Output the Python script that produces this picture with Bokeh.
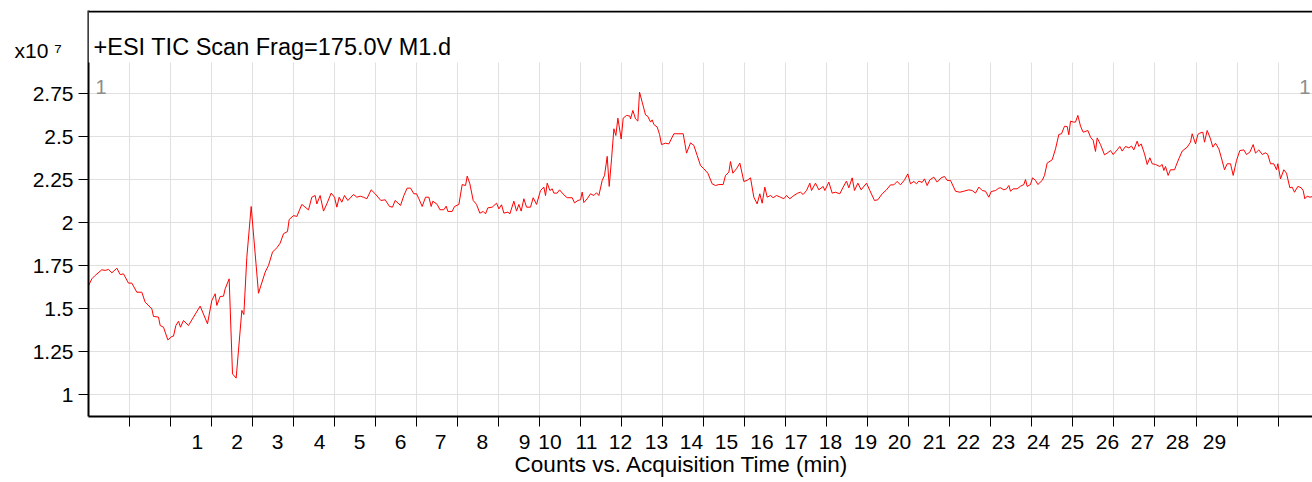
from bokeh.plotting import figure
from bokeh.models import Range1d, FixedTicker, Label, BoxAnnotation
from bokeh.embed import file_html
from bokeh.resources import INLINE

# Acquisition time (min) and TIC counts (x10^7)
time_min = [
    0.01, 0.088, 0.17, 0.332, 0.413, 0.495, 0.576, 0.698, 0.779, 0.86,
    0.982, 1.063, 1.185, 1.307, 1.388, 1.551, 1.591, 1.713, 1.754, 1.835,
    1.941, 2.038, 2.079, 2.136, 2.201, 2.249, 2.322, 2.444, 2.566, 2.729,
    2.907, 3.013, 3.094, 3.135, 3.216, 3.297, 3.338, 3.435, 3.517, 3.606,
    3.744, 3.793, 3.866, 3.972, 4.15, 4.313, 4.394, 4.492, 4.597, 4.678,
    4.76, 4.857, 4.898, 5.003, 5.085, 5.206, 5.369, 5.45, 5.531, 5.572,
    5.653, 5.735, 5.816, 5.921, 6.003, 6.06, 6.116, 6.181, 6.246, 6.328,
    6.466, 6.547, 6.628, 6.709, 6.791, 6.896, 6.994, 7.132, 7.238, 7.343,
    7.416, 7.481,
    7.612, 7.693, 7.774, 7.856, 7.937, 8.002, 8.059, 8.14, 8.221, 8.303,
    8.359, 8.4, 8.506, 8.571, 8.668, 8.725, 8.766, 8.871, 8.928, 9.034,
    9.115, 9.196, 9.237, 9.302, 9.383, 9.464, 9.545, 9.627, 9.684, 9.74,
    9.846, 9.952, 10.009, 10.074, 10.131, 10.228, 10.277, 10.374, 10.439, 10.496,
    10.553, 10.618, 10.683, 10.78, 10.845, 10.927, 11.024, 11.105, 11.146, 11.187,
    11.252, 11.309, 11.349, 11.43, 11.487, 11.593, 11.674, 11.796, 11.853, 11.934,
    11.999, 12.04, 12.08, 12.162, 12.243, 12.324, 12.389, 12.446, 12.527, 12.584,
    12.649, 12.698, 12.755, 12.812, 12.86, 12.909, 12.99, 13.039, 13.12, 13.201,
    13.218, 13.274, 13.339, 13.396, 13.437, 13.502, 13.583, 13.64, 13.705, 13.746,
    13.786, 13.868, 13.925, 13.973, 14.071, 14.152, 14.274, 14.501, 14.583, 14.68,
    14.761, 14.843,
    14.923, 15.004, 15.102, 15.207, 15.289, 15.37, 15.475, 15.532, 15.614, 15.654,
    15.711, 15.8, 15.882, 15.979, 16.06, 16.142, 16.223, 16.304, 16.369, 16.426,
    16.491, 16.548, 16.629, 16.694, 16.775, 16.873, 16.954, 17.019, 17.1, 17.198,
    17.295, 17.36, 17.425, 17.507, 17.588, 17.628, 17.726, 17.807, 17.913, 17.953,
    18.051, 18.132, 18.213, 18.319, 18.4, 18.481, 18.538, 18.62, 18.676, 18.758,
    18.839, 18.969, 19.05, 19.164, 19.245, 19.351, 19.456, 19.554, 19.635, 19.716,
    19.797, 19.895, 19.976, 20.041, 20.122, 20.187, 20.244, 20.325, 20.382, 20.447,
    20.512, 20.61, 20.691, 20.789, 20.87, 20.935, 21.016, 21.138, 21.244, 21.341,
    21.463, 21.544, 21.625, 21.707, 21.788, 21.869, 21.95, 22.007, 22.113, 22.194,
    22.235, 22.316, 22.381, 22.438, 22.479, 22.544, 22.641, 22.722, 22.804, 22.844,
    22.885, 22.966, 23.015, 23.088, 23.145, 23.251, 23.307, 23.372, 23.494, 23.576,
    23.657, 23.722, 23.795, 23.86, 23.9, 23.941, 24.022, 24.063, 24.12, 24.185,
    24.25, 24.364, 24.429, 24.494, 24.55, 24.591, 24.672, 24.77, 24.835, 24.916,
    24.981, 25.078, 25.143, 25.2, 25.282, 25.363, 25.428, 25.485, 25.566, 25.607,
    25.663, 25.745, 25.81, 25.875, 25.932, 26.013, 26.118, 26.175, 26.216, 26.256,
    26.321, 26.378, 26.476, 26.516, 26.581, 26.663, 26.785, 26.866, 26.906, 26.988,
    27.045, 27.093, 27.166, 27.207, 27.272, 27.353, 27.41, 27.475, 27.556, 27.613,
    27.695, 27.76, 27.841, 27.906, 27.987, 28.068, 28.166, 28.231, 28.312, 28.393,
    28.45, 28.531, 28.613, 28.694, 28.75, 28.816, 28.897, 28.962, 28.994, 29.059,
    29.14, 29.205, 29.287, 29.343, 29.4, 29.482, 29.563, 29.612, 29.652, 29.709,
    29.774, 29.839,
]

tic_x1e7 = [
    1.633, 1.672, 1.692, 1.725, 1.721, 1.727, 1.707, 1.734, 1.697, 1.701,
    1.647, 1.647, 1.594, 1.594, 1.536, 1.497, 1.453, 1.449, 1.400, 1.390,
    1.316, 1.336, 1.338, 1.400, 1.425, 1.390, 1.429, 1.400, 1.449, 1.513,
    1.410, 1.546, 1.585, 1.517, 1.569, 1.571, 1.614, 1.672, 1.118, 1.093,
    1.488, 1.464, 1.798, 2.094, 1.588, 1.711, 1.750, 1.828, 1.853, 1.880,
    1.935, 1.948, 2.018, 2.041, 2.036, 2.106, 2.074, 2.148, 2.158, 2.109,
    2.158, 2.067, 2.109, 2.172, 2.148, 2.090, 2.148, 2.119, 2.158, 2.129,
    2.164, 2.148, 2.154, 2.148, 2.139, 2.191, 2.168, 2.129, 2.133, 2.094,
    2.090, 2.129,
    2.100, 2.158, 2.201, 2.201, 2.168, 2.168, 2.139, 2.094, 2.148, 2.148,
    2.094, 2.125, 2.106, 2.075, 2.075, 2.096, 2.065, 2.065, 2.094, 2.106,
    2.222, 2.216, 2.271, 2.226, 2.129, 2.106, 2.055, 2.065, 2.051, 2.086,
    2.090, 2.113, 2.080, 2.104, 2.055, 2.061, 2.051, 2.125, 2.067, 2.106,
    2.067, 2.139, 2.090, 2.090, 2.145, 2.106, 2.187, 2.207, 2.158, 2.230,
    2.187, 2.197, 2.172, 2.172, 2.191, 2.162, 2.145, 2.145, 2.115, 2.129,
    2.133, 2.178, 2.117, 2.139, 2.168, 2.158, 2.174, 2.158, 2.246, 2.275,
    2.386, 2.211, 2.372, 2.547, 2.508, 2.609, 2.487, 2.609, 2.625, 2.621,
    2.605, 2.654, 2.605, 2.592, 2.761, 2.702, 2.628, 2.619, 2.586, 2.599,
    2.572, 2.557, 2.514, 2.455, 2.463, 2.459, 2.518, 2.518, 2.405, 2.465,
    2.450, 2.391,
    2.333, 2.314, 2.288, 2.226, 2.216, 2.222, 2.222, 2.275, 2.294, 2.356,
    2.288, 2.314, 2.347, 2.240, 2.246, 2.261, 2.148, 2.109, 2.168, 2.113,
    2.207, 2.148, 2.158, 2.145, 2.158, 2.148, 2.139, 2.158, 2.139, 2.158,
    2.172, 2.177, 2.164, 2.187, 2.230, 2.187, 2.230, 2.191, 2.211, 2.187,
    2.236, 2.172, 2.177, 2.168, 2.207, 2.242, 2.203, 2.261, 2.187, 2.230,
    2.191, 2.230, 2.187, 2.129, 2.133, 2.168, 2.191, 2.220, 2.220, 2.240,
    2.220, 2.249, 2.284, 2.226, 2.240, 2.226, 2.242, 2.234, 2.255, 2.216,
    2.249, 2.265, 2.236, 2.261, 2.269, 2.246, 2.246, 2.183, 2.177, 2.183,
    2.191, 2.187, 2.172, 2.207, 2.187, 2.183, 2.148, 2.181, 2.187, 2.201,
    2.203, 2.191, 2.197, 2.216, 2.183, 2.197, 2.197, 2.212, 2.222, 2.251,
    2.211, 2.222, 2.261, 2.246, 2.222, 2.246, 2.275, 2.347, 2.366, 2.430,
    2.514, 2.518, 2.562, 2.560, 2.512, 2.591, 2.586, 2.586, 2.625, 2.562,
    2.527, 2.537, 2.498, 2.479, 2.415, 2.494, 2.455, 2.395, 2.405, 2.420,
    2.397, 2.424, 2.444, 2.417, 2.444, 2.436, 2.446, 2.424, 2.475, 2.444,
    2.459, 2.401, 2.339, 2.378, 2.343, 2.339, 2.327, 2.339, 2.304, 2.327,
    2.275, 2.308, 2.308, 2.333, 2.372, 2.417, 2.440, 2.469, 2.518, 2.459,
    2.514, 2.522, 2.527, 2.469, 2.537, 2.488, 2.440, 2.463, 2.430, 2.382,
    2.308, 2.343, 2.343, 2.275, 2.362, 2.420, 2.424, 2.397, 2.411, 2.455,
    2.405, 2.424, 2.397, 2.407, 2.397, 2.343, 2.343, 2.308, 2.343, 2.255,
    2.308, 2.288, 2.203, 2.207, 2.177, 2.211, 2.203, 2.187, 2.139, 2.154,
    2.148, 2.152,
]

# Axis ticks and labels
y_ticks = [1.0, 1.25, 1.5, 1.75, 2.0, 2.25, 2.5, 2.75]
y_tick_labels = ["1", "1.25", "1.5", "1.75", "2", "2.25", "2.5", "2.75"]
y_scale_label_pos = 3.006
y_scale_label = "x10\u00a0\u2077\u00a0\u00a0"
x_tick_marks = list(range(1, 30))
x_label_positions = [2.657, 3.631, 4.614, 5.637, 6.612, 7.612, 8.586, 9.603, 10.634,
                     11.255, 12.145, 12.973, 13.851, 14.704, 15.557, 16.422, 17.251,
                     18.092, 18.945, 19.773, 20.626, 21.455, 22.308, 23.161, 23.99,
                     24.843, 25.696, 26.549, 27.451]
x_tick_labels = [str(i) for i in range(1, 30)]

title_text = "+ESI TIC Scan Frag=175.0V M1.d"
x_axis_title = "Counts vs. Acquisition Time (min)" + "\u00a0" * 6

FONT = "Liberation Sans"
Y_TOP = 3.2367

p = figure(width=1312, height=482, output_backend="svg", toolbar_location=None,
           x_range=Range1d(0.007, 29.839), y_range=Range1d(0.8694, Y_TOP),
           min_border_left=88, min_border_right=0, min_border_top=10, min_border_bottom=66)

p.background_fill_color = "white"
p.border_fill_color = "white"
p.outline_line_color = None

# grids
p.xgrid.ticker = FixedTicker(ticks=x_tick_marks)
p.ygrid.ticker = FixedTicker(ticks=y_ticks)
p.xgrid.grid_line_color = "#e0e0e0"
p.ygrid.grid_line_color = "#e0e0e0"

p.line(time_min, tic_x1e7, line_color="#ff0000", line_width=1)

# header strip (white) and its top border (black)
p.add_layout(BoxAnnotation(bottom=2.934, top=None, fill_color="white", fill_alpha=1.0,
                           line_color=None))
p.add_layout(BoxAnnotation(bottom=Y_TOP - 2.0 / 171.5, top=None, fill_color="black",
                           fill_alpha=1.0, line_color=None))

# y axis: visible tick marks are the minor ticks, labels sit on invisible major ticks
ya = p.yaxis[0]
ya.ticker = FixedTicker(ticks=y_ticks + [y_scale_label_pos], minor_ticks=y_ticks)
overrides = {t: l for t, l in zip(y_ticks, y_tick_labels)}
overrides[y_scale_label_pos] = y_scale_label
ya.major_label_overrides = overrides
ya.major_tick_line_color = None
ya.major_tick_out = 10
ya.major_tick_in = 0
ya.minor_tick_line_color = "black"
ya.minor_tick_out = 10
ya.minor_tick_in = 0
ya.major_label_standoff = 5
ya.major_label_text_font = FONT
ya.major_label_text_font_size = "21px"
ya.major_label_text_color = "black"
ya.axis_line_width = 2
ya.axis_line_color = "black"

# x axis
xa = p.xaxis[0]
xa.ticker = FixedTicker(ticks=x_label_positions, minor_ticks=x_tick_marks)
xa.major_label_overrides = {t: l for t, l in zip(x_label_positions, x_tick_labels)}
xa.major_tick_line_color = None
xa.major_tick_out = 10
xa.major_tick_in = 0
xa.minor_tick_line_color = "black"
xa.minor_tick_out = 10
xa.minor_tick_in = 0
xa.major_label_standoff = 8
xa.major_label_text_font = FONT
xa.major_label_text_font_size = "21px"
xa.major_label_text_color = "black"
xa.axis_line_width = 2
xa.axis_line_color = "black"
xa.axis_label = x_axis_title
xa.axis_label_standoff = 0
xa.axis_label_text_font = FONT
xa.axis_label_text_font_size = "22.5px"
xa.axis_label_text_font_style = "normal"
xa.axis_label_text_color = "black"

# texts inside the frame
p.add_layout(Label(x=0.13, y=3.023, text=title_text, text_font=FONT,
                   text_font_size="23.5px", text_color="black",
                   text_align="left", text_baseline="alphabetic"))
p.add_layout(Label(x=0.18, y=2.788, text="1", text_font=FONT,
                   text_font_size="20px", text_color="#8c8c8c",
                   text_align="left", text_baseline="alphabetic"))
p.add_layout(Label(x=29.79, y=2.788, text="1", text_font=FONT,
                   text_font_size="20px", text_color="#8c8c8c",
                   text_align="right", text_baseline="alphabetic"))

open("out.html", "w").write(file_html(p, INLINE))
